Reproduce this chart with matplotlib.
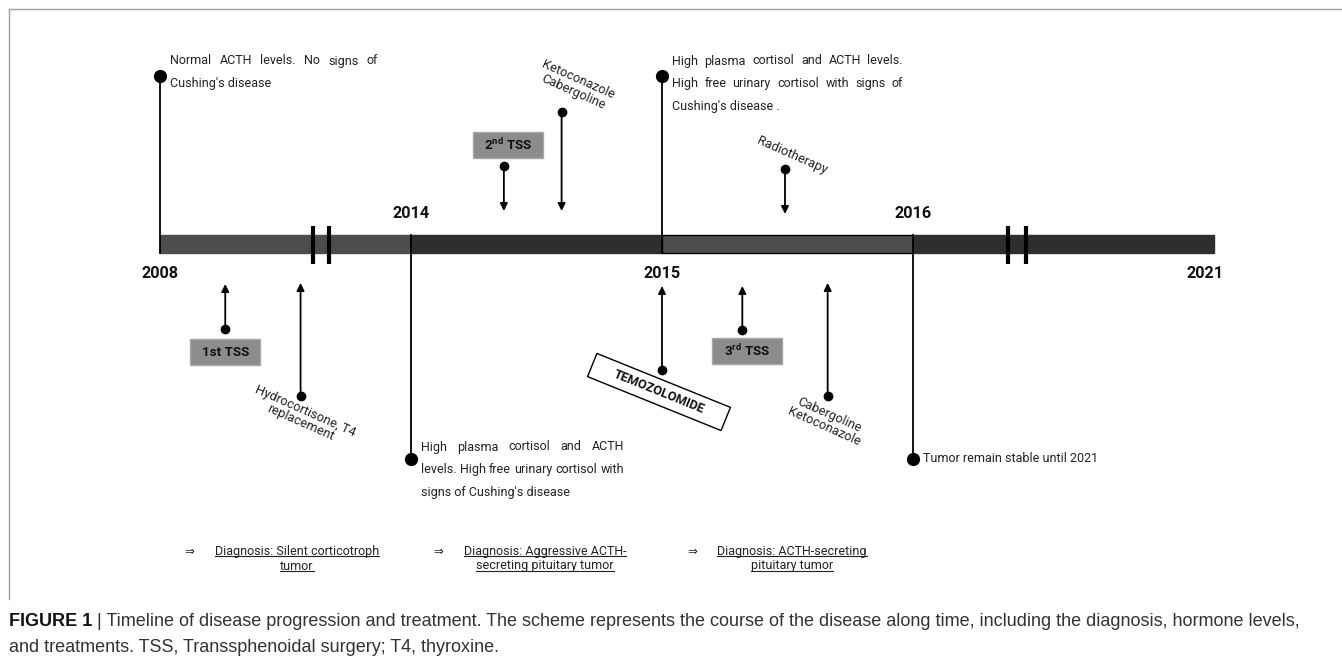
import matplotlib.pyplot as plt
from matplotlib.patches import Rectangle
from matplotlib.transforms import Affine2D

plt.rcParams['font.family'] = ['Roboto', 'DejaVu Sans']
plt.rcParams['mathtext.fontset'] = 'custom'
plt.rcParams['mathtext.rm'] = 'Roboto'
plt.rcParams['mathtext.bf'] = 'Roboto:bold'

# timeline: one step per segment, the last segment is stretched (broken axis)
years = [2008, 2014, 2015, 2016, 2021]
year_pos = [0, 1, 2, 3, 4.2]
segment_colors = ['#4d4d4d', '#2e2e2e', '#4d4d4d', '#2e2e2e']
breaks = [0.61, 0.675, 3.38, 3.45]

# milestone notes at each year
milestone_notes = [
    ["Normal ACTH levels. No signs of", "Cushing's disease"],
    ["High plasma cortisol and ACTH", "levels. High free urinary cortisol with",
     "signs of Cushing's disease"],
    ["High plasma cortisol and ACTH levels.", "High free urinary cortisol with signs of",
     "Cushing's disease ."],
    ["Tumor remain stable until 2021"],
]

# treatments / surgeries along the timeline
event_labels = ['1st TSS', 'Hydrocortisone, T4\nreplacement', '2$^{\\mathbf{nd}}$ TSS',
                'Ketoconazole\nCabergoline', 'TEMOZOLOMIDE', '3$^{\\mathbf{rd}}$ TSS',
                'Radiotherapy', 'Cabergoline\nKetoconazole']
event_pos = [0.26, 0.56, 1.37, 1.60, 2.0, 2.32, 2.49, 2.66]

diagnoses = ["Diagnosis: Silent corticotroph\ntumor",
             "Diagnosis: Aggressive ACTH-\nsecreting pituitary tumor",
             "Diagnosis: ACTH-secreting\npituitary tumor"]

caption_head = "FIGURE 1"
caption_lines = [" | Timeline of disease progression and treatment. The scheme represents the course "
                 "of the disease along time, including the diagnosis, hormone levels,",
                 "and treatments. TSS, Transsphenoidal surgery; T4, thyroxine."]

W, H = 1342, 662
U = 251.0   # pixels per timeline step
X0 = 160    # pixel column of 2008
TXT = '#222222'


def px(p):
    return (p - X0) / U


fig = plt.figure(figsize=(W / 100, H / 100), dpi=100)
ax = fig.add_axes([0, 0, 1, 1])
ax.set_xlim(-X0 / U, (W - X0) / U)
ax.set_ylim(H, 0)
ax.axis('off')
renderer = fig.canvas.get_renderer()


def text_width(t):
    return t.get_window_extent(renderer).width / U


def put_line(x, y, s, width=None, **kw):
    if width is None:
        return ax.text(x, y, s, va='center', ha='left', **kw)
    words = s.split()
    texts = [ax.text(0, y, w, va='center', ha='left', **kw) for w in words]
    widths = [text_width(t) for t in texts]
    gap = (width - sum(widths)) / (len(words) - 1)
    cur = x
    for t, w in zip(texts, widths):
        t.set_x(cur)
        cur += w + gap


# frame
ax.plot([px(9), px(9)], [599, 9], color='#a0a0a0', lw=1)
ax.plot([px(9), px(W)], [9, 9], color='#a0a0a0', lw=1)

# main bar
for i in range(len(segment_colors)):
    edge = 'black' if i == 2 else segment_colors[i]
    ax.barh(244, year_pos[i + 1] - year_pos[i], left=year_pos[i], height=18,
            color=segment_colors[i], edgecolor=edge, lw=1, zorder=2)
ax.vlines(breaks, 226, 264, color='black', lw=3, zorder=3)

# year labels
for i, yr in enumerate(years):
    y = 214 if i % 2 == 1 else 274
    x = year_pos[i] - (0.035 if i == len(years) - 1 else 0)
    ax.text(x, y, str(yr), ha='center', va='center', fontsize=11.7,
            fontweight='bold', color='#111111')

# milestone stems and notes
note_width = [208, 203, 231, None]
for i, lines in enumerate(milestone_notes):
    x = year_pos[i]
    up = i % 2 == 0
    dot = 76 if up else 459
    ax.plot([x, x], [253 if up else 235, dot], color='black', lw=1.3, zorder=4)
    ax.plot(x, dot, 'o', color='black', ms=8.5, zorder=5)
    y0 = 61 if up else 447
    if i == 3:
        y0 = 459
    for k, line in enumerate(lines):
        w = note_width[i]
        if w is not None and k < len(lines) - 1:
            w = w / U
        else:
            w = None
        put_line(x + 10 / U, y0 + k * 22.8, line, width=w, fontsize=9, color=TXT)

# small arrows for events
dots = [329, 396, 166, 112, 370, 330, 169, 396]
tips = [284, 283, 211, 211, 286, 286, 214, 283]
for x, d, t in zip(event_pos, dots, tips):
    ax.annotate('', xy=(x, t), xytext=(x, d),
                arrowprops=dict(arrowstyle='-|>', color='black', lw=1.3,
                                mutation_scale=11, shrinkA=0, shrinkB=0))
    ax.plot(x, d, 'o', color='black', ms=6, zorder=5)

# gray TSS boxes
for idx, (cy, dxp) in zip([0, 2, 5], [(352, 0), (145, 4), (351, 5)]):
    cx = event_pos[idx] + dxp / U
    ax.add_patch(Rectangle((cx - 35 / U, cy - 13), 70 / U, 26, facecolor='#8c8c8c',
                           edgecolor='#a8a8a8', lw=1, zorder=3))
    ax.text(cx, cy, event_labels[idx], ha='center', va='center', fontsize=9.6,
            fontweight='bold', color='#111111', zorder=4)

# rotated drug labels
for idx, cx, cy in [(1, 303, 417), (3, 576, 86), (6, 792, 155), (7, 827, 421)]:
    ax.text(px(cx), cy, event_labels[idx], ha='center', va='center',
            multialignment='center', rotation=-24, rotation_mode='anchor',
            fontsize=9.3, color=TXT, linespacing=1.0)

# temozolomide box
cxy = ax.transData.transform((event_pos[4] - 3 / U, 392))
rot = Affine2D().rotate_deg(-22).translate(cxy[0], cxy[1])
ax.add_patch(Rectangle((-72, -12.5), 144, 25, facecolor='white', edgecolor='black',
                       lw=1, transform=rot, zorder=3))
ax.text(event_pos[4] - 3 / U, 392, event_labels[4], ha='center', va='center',
        rotation=-22, rotation_mode='anchor', fontsize=9.2, fontweight='bold',
        color='#111111', zorder=4)

# diagnoses
for (ax_arrow, cx), label in zip([(189, 297), (438, 545), (692, 792)], diagnoses):
    ax.text(px(ax_arrow), 551, '\u21d2', ha='center', va='center', fontsize=8.5,
            color=TXT, family=['DejaVu Sans'])
    for k, line in enumerate(label.split('\n')):
        t = ax.text(px(cx), 551 + 15 * k, line, ha='center', va='center',
                    fontsize=9, color=TXT)
        bb = t.get_window_extent(renderer)
        (x0, y0), (x1, _) = ax.transData.inverted().transform([(bb.x0, bb.y0 + 2),
                                                              (bb.x1, bb.y0)])
        ax.plot([x0, x1], [y0, y0], color=TXT, lw=0.8)

# caption
cap_font = ['Liberation Sans']
head = ax.text(px(9), 622, caption_head, ha='left', va='center', fontsize=13,
               fontweight='bold', family=cap_font, color='#111111')
hw = text_width(head)
ax.text(px(9) + hw, 622, caption_lines[0], ha='left', va='center', fontsize=13,
        family=cap_font, color='#333333')
ax.text(px(9), 648, caption_lines[1], ha='left', va='center', fontsize=13,
        family=cap_font, color='#333333')

fig.savefig('out.png', dpi=100)
